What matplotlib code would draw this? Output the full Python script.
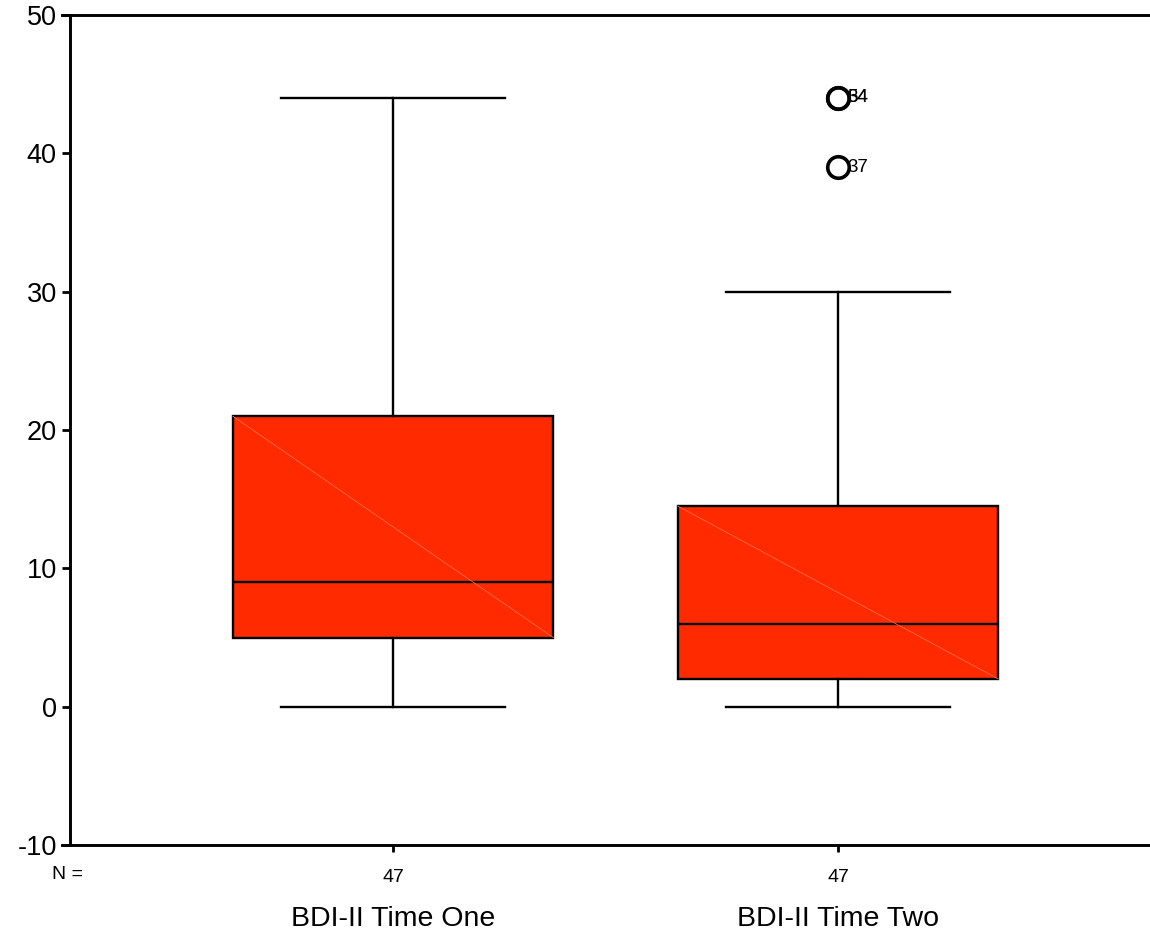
import matplotlib
matplotlib.use("Agg")
from matplotlib import pyplot as plt
from matplotlib import transforms

# values
categories = ["BDI-II Time One", "BDI-II Time Two"]
counts = [47, 47]
medians = [9, 6]
q1s = [5, 2]
q3s = [21, 14.5]
whis_lo = [0, 0]
whis_hi = [44, 30]
fliers = [[], [44, 44, 39]]
flier_labels = [[], ["34", "54", "37"]]

plt.rcParams['font.family'] = ['Liberation Sans', 'DejaVu Sans']
plt.rcParams['axes.unicode_minus'] = False

fig = plt.figure(figsize=(11.5, 9.35), dpi=100)
ax = fig.add_axes([70 / 1150, 1 - 845 / 935, 1080 / 1150, 830 / 935])

positions = [1, 2]
stats = []
for i in range(len(categories)):
    stats.append({"med": medians[i], "q1": q1s[i], "q3": q3s[i],
                  "whislo": whis_lo[i], "whishi": whis_hi[i],
                  "fliers": fliers[i], "label": categories[i]})

box_color = "#ff2a00"
lw = 1.7
ax.bxp(stats, positions=positions, widths=0.72, patch_artist=True,
       capwidths=0.503,
       boxprops=dict(facecolor=box_color, edgecolor="black", linewidth=lw),
       medianprops=dict(color="black", linewidth=lw),
       whiskerprops=dict(color="black", linewidth=lw),
       capprops=dict(color="black", linewidth=lw),
       flierprops=dict(marker="o", markersize=15.5, markerfacecolor="none",
                       markeredgecolor="black", markeredgewidth=2.6))

# faint diagonal seen inside each box
for p, lo, hi in zip(positions, q1s, q3s):
    ax.plot([p - 0.36, p + 0.36], [hi, lo], color="#ff6a45", linewidth=0.6, zorder=3)

# outlier case labels
for p, ys, labs in zip(positions, fliers, flier_labels):
    for y, lab in zip(ys, labs):
        ax.annotate(lab, (p, y), xytext=(6.5, 0), textcoords="offset points",
                    va="center", ha="left", fontsize=13.5)

ax.set_xlim(0.2742, 2.701)
ax.set_ylim(-10, 50)
ax.set_yticks([-10, 0, 10, 20, 30, 40, 50])
ax.tick_params(axis="y", labelsize=19.5, length=5.5, width=2, pad=4, direction="out")
ax.set_xticks(positions)
ax.set_xticklabels([str(n) for n in counts], fontsize=14)
ax.tick_params(axis="x", length=5, width=2, pad=12, direction="out")

for s in ["left", "bottom", "top"]:
    ax.spines[s].set_linewidth(2.1)
ax.spines["right"].set_visible(False)
# top and bottom spines run a little past the y axis, like the ticks
ax.spines["top"].set_bounds(0.2742 - 8 / 445, 2.701)
ax.spines["bottom"].set_bounds(0.2742 - 8 / 445, 2.701)

trans = transforms.blended_transform_factory(ax.transData, ax.transAxes)
for p, name in zip(positions, categories):
    ax.text(p, -0.089, name, transform=trans, ha="center", va="center", fontsize=20.5)
ax.text(-0.0019, -0.0355, "N =", transform=ax.transAxes, ha="center", va="center", fontsize=14)

fig.savefig("out.png", dpi=100)
